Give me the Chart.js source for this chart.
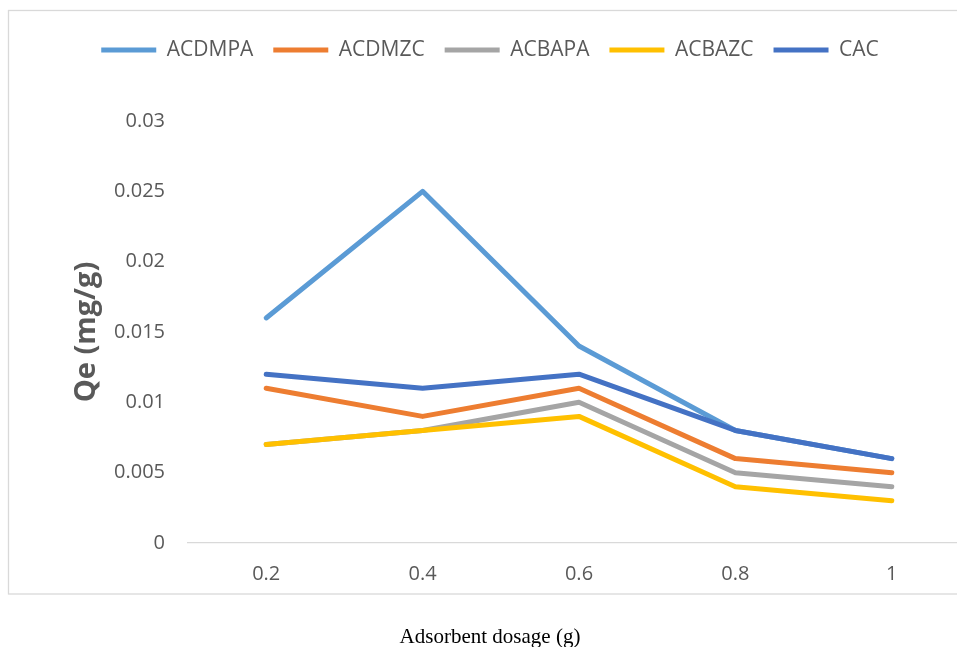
<!DOCTYPE html>
<html>
<head>
<meta charset="utf-8">
<script src="https://cdn.jsdelivr.net/npm/chart.js@4/dist/chart.umd.min.js"></script>
<style>
  html, body { margin: 0; padding: 0; background: #ffffff; overflow: hidden; }
  #wrap { position: absolute; left: 0; top: 0; width: 980px; height: 650px; }
</style>
</head>
<body>
<div id="wrap"><canvas id="chart" width="980" height="650"></canvas></div>
<script>
// Adsorbent dosage (g) on the x axis
const dosage = ['0.2', '0.4', '0.6', '0.8', '1'];

// Qe (mg/g) for each adsorbent
const acdmpa = [0.016, 0.025, 0.014, 0.008, 0.006];
const acdmzc = [0.011, 0.009, 0.011, 0.006, 0.005];
const acbapa = [0.007, 0.008, 0.010, 0.005, 0.004];
const acbazc = [0.007, 0.008, 0.009, 0.004, 0.003];
const cac    = [0.012, 0.011, 0.012, 0.008, 0.006];

// y-axis ticks
const yTicks = [0, 0.005, 0.01, 0.015, 0.02, 0.025, 0.03];

const seriesNames  = ['ACDMPA', 'ACDMZC', 'ACBAPA', 'ACBAZC', 'CAC'];
const seriesData   = [acdmpa, acdmzc, acbapa, acbazc, cac];
const seriesColors = ['#5B9BD5', '#ED7D31', '#A5A5A5', '#FFC000', '#4472C4'];

const FONT = "'Open Sans', 'DejaVu Sans', sans-serif";
const GREY = '#595959';

// thin grey frame around the plot region
const framePlugin = {
  id: 'frame',
  beforeDraw(chart) {
    const ctx = chart.ctx;
    ctx.save();
    ctx.strokeStyle = '#d9d9d9';
    ctx.lineWidth = 1.3;
    ctx.strokeRect(8.5, 10.5, 1000, 583.5);
    ctx.restore();
  }
};

// leave extra room between the legend row and the plot area
const legendGapPlugin = {
  id: 'legendGap',
  beforeLayout(chart, args, opts) {
    const lg = chart.legend;
    if (lg && !lg.__gapped) {
      const baseFit = lg.fit.bind(lg);
      lg.fit = function () { baseFit(); this.height += opts.gap || 0; };
      lg.__gapped = true;
    }
  }
};

new Chart(document.getElementById('chart'), {
  type: 'line',
  data: {
    labels: dosage,
    datasets: seriesData.map((d, i) => ({
      label: seriesNames[i],
      data: d,
      borderColor: seriesColors[i],
      backgroundColor: seriesColors[i],
      borderWidth: 5,
      borderCapStyle: 'round',
      borderJoinStyle: 'round',
      pointRadius: 0,
      pointHoverRadius: 0,
      pointStyle: 'line',
      tension: 0,
      fill: false,
      order: seriesData.length - i
    }))
  },
  plugins: [framePlugin, legendGapPlugin],
  options: {
    responsive: false,
    animation: false,
    layout: { padding: { top: 19.5, left: 0, right: 0, bottom: 0 } },
    plugins: {
      legendGap: { gap: 50.5 },
      legend: {
        position: 'top',
        align: 'center',
        labels: {
          usePointStyle: true,
          pointStyleWidth: 55,
          boxHeight: 21,
          padding: 20,
          color: GREY,
          font: { family: FONT, size: 21 },
          sort: (a, b) => a.datasetIndex - b.datasetIndex
        }
      },
      title: {
        display: true,
        position: 'bottom',
        text: 'Adsorbent dosage (g)',
        color: '#000000',
        font: { family: "'Liberation Serif', 'Times New Roman', serif", size: 21, weight: 'normal' },
        padding: { top: 16.8, bottom: 0 }
      },
      tooltip: { enabled: false }
    },
    scales: {
      x: {
        type: 'category',
        offset: true,
        grid: { display: false, drawTicks: false },
        border: { display: true, color: '#d9d9d9', width: 1.3 },
        ticks: { color: GREY, font: { family: FONT, size: 20 }, padding: 19 },
        afterFit(s) { s.height = 65; s.paddingRight = 10; }
      },
      y: {
        min: 0,
        max: 0.03,
        grid: { display: false, drawTicks: false },
        border: { display: false },
        afterBuildTicks(s) { s.ticks = yTicks.map(v => ({ value: v })); },
        ticks: {
          color: GREY,
          font: { family: FONT, size: 20 },
          padding: 23,
          callback: v => String(+Number(v).toFixed(3))
        },
        title: {
          display: true,
          text: 'Qe (mg/g)',
          color: GREY,
          font: { family: FONT, size: 29, weight: 'bold' },
          padding: { top: 69, bottom: 0 }
        },
        afterFit(s) { s.width = 188; }
      }
    }
  }
});
</script>
</body>
</html>
